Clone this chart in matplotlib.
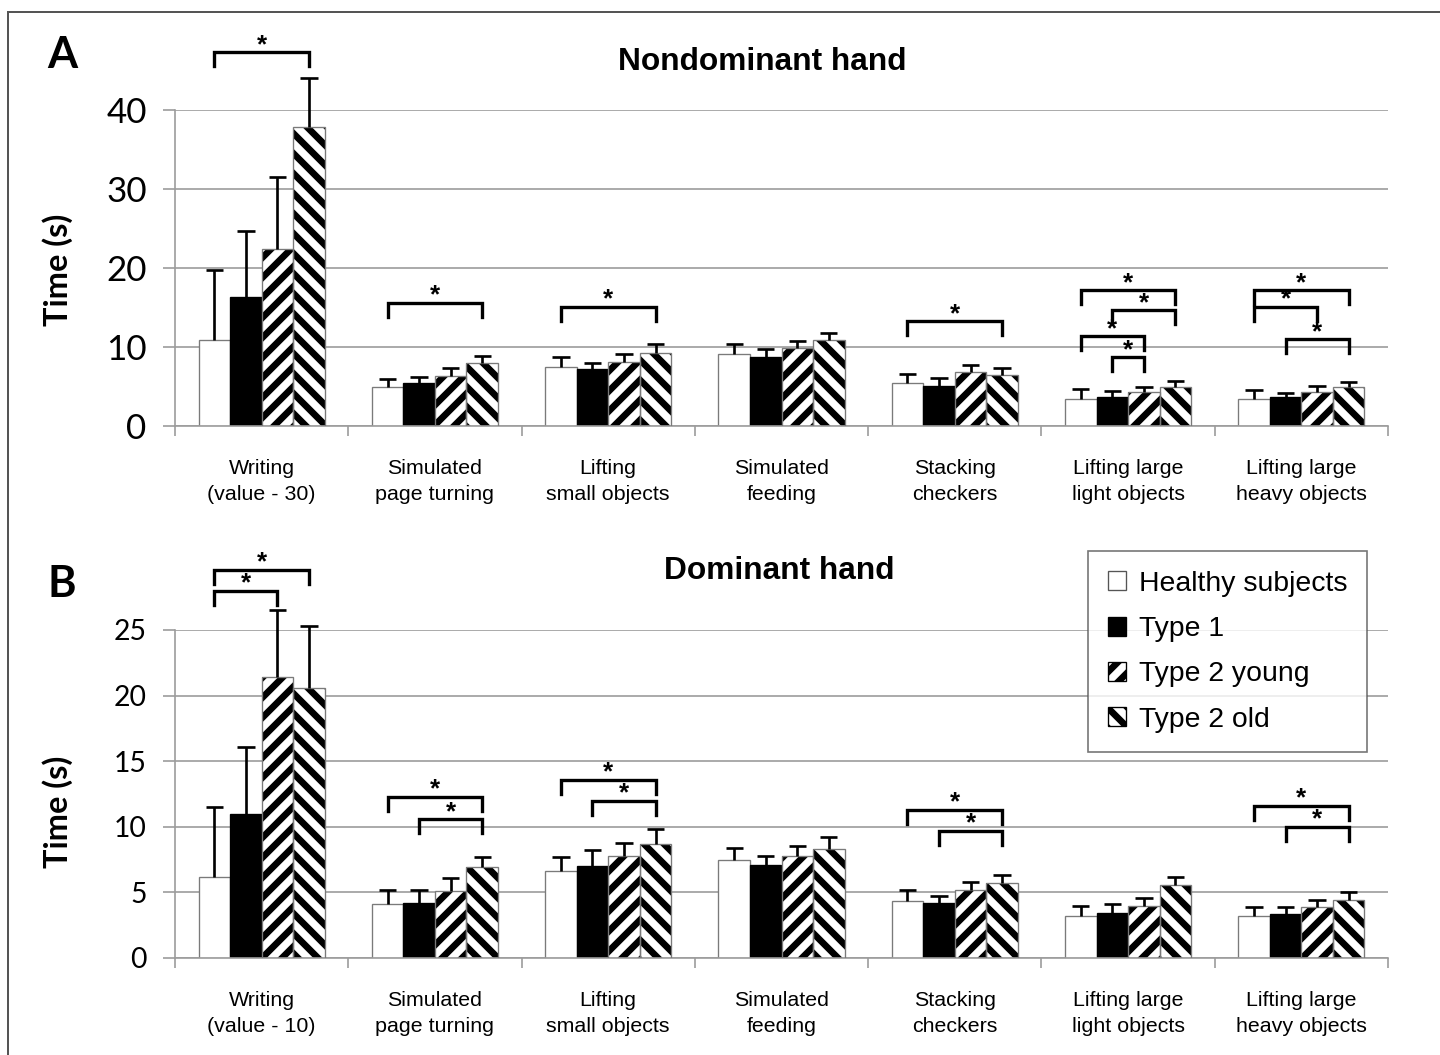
import numpy as np
import matplotlib
matplotlib.use('Agg')
from matplotlib import pyplot
from matplotlib.patches import Patch
from matplotlib.lines import Line2D
plt = pyplot

DPI = 120
W, H = 1440, 1055

plt.rcParams['hatch.linewidth'] = 4.0
plt.rcParams['font.family'] = ['Liberation Sans', 'DejaVu Sans']

# categories (two line labels)
tasks_a = ['Writing\n(value - 30)', 'Simulated\npage turning', 'Lifting\nsmall objects',
           'Simulated\nfeeding', 'Stacking\ncheckers', 'Lifting large\nlight objects',
           'Lifting large\nheavy objects']
tasks_b = ['Writing\n(value - 10)', 'Simulated\npage turning', 'Lifting\nsmall objects',
           'Simulated\nfeeding', 'Stacking\ncheckers', 'Lifting large\nlight objects',
           'Lifting large\nheavy objects']
groups = ['Healthy subjects', 'Type 1', 'Type 2 young', 'Type 2 old']

# Nondominant hand: mean per task, columns = groups
mean_a = [[10.9, 16.3, 22.4, 37.8],
          [4.9, 5.4, 6.3, 8.0],
          [7.5, 7.2, 8.1, 9.2],
          [9.1, 8.7, 9.9, 10.9],
          [5.4, 5.1, 6.8, 6.5],
          [3.4, 3.7, 4.3, 4.9],
          [3.4, 3.7, 4.3, 4.9]]
sd_a = [[8.8, 8.4, 9.1, 6.2],
        [1.1, 0.8, 1.0, 0.9],
        [1.2, 0.8, 1.0, 1.2],
        [1.3, 1.0, 0.9, 0.9],
        [1.2, 1.0, 0.9, 0.8],
        [1.3, 0.7, 0.6, 0.8],
        [1.1, 0.5, 0.8, 0.7]]

# Dominant hand
mean_b = [[6.2, 11.0, 21.4, 20.6],
          [4.1, 4.2, 5.1, 6.9],
          [6.6, 7.0, 7.8, 8.7],
          [7.5, 7.1, 7.8, 8.3],
          [4.35, 4.2, 5.2, 5.7],
          [3.2, 3.4, 3.95, 5.6],
          [3.2, 3.35, 3.9, 4.4]]
sd_b = [[5.3, 5.1, 5.1, 4.7],
        [1.1, 1.0, 1.0, 0.8],
        [1.1, 1.2, 1.0, 1.1],
        [0.9, 0.7, 0.7, 0.9],
        [0.85, 0.5, 0.6, 0.6],
        [0.8, 0.7, 0.65, 0.6],
        [0.7, 0.55, 0.5, 0.6]]

# significance brackets: (task, bar i, bar j, bracket level)
sig_a = [(0, 0, 3, 47.3),
         (1, 0, 3, 15.6),
         (2, 0, 3, 15.1),
         (4, 0, 3, 13.3),
         (5, 0, 3, 17.2), (5, 1, 3, 14.7), (5, 0, 2, 11.4), (5, 1, 2, 8.7),
         (6, 0, 3, 17.2), (6, 0, 2, 15.1), (6, 1, 3, 11.0)]
sig_b = [(0, 0, 3, 29.6), (0, 0, 2, 28.0),
         (1, 0, 3, 12.3), (1, 1, 3, 10.6),
         (2, 0, 3, 13.6), (2, 1, 3, 12.0),
         (4, 0, 3, 11.3), (4, 1, 3, 9.7),
         (6, 0, 3, 11.6), (6, 1, 3, 10.0)]

BAR_W = 0.182
OFFS = (np.arange(4) - 1.5) * BAR_W
GRID = '#9c9c9c'
styles = [dict(face='white', hatch=None, edge='#7a7a7a'),
          dict(face='black', hatch=None, edge='black'),
          dict(face='white', hatch='//', edge='#7a7a7a'),
          dict(face='white', hatch='\\\\', edge='#7a7a7a')]


def draw_panel(ax, means, sds, labels, sigs, ymax, step, tick_size):
    means = np.array(means)
    sds = np.array(sds)
    centers = np.arange(len(labels)) + 0.5

    for k, st in enumerate(styles):
        xs = centers + OFFS[k]
        if st['hatch']:
            # hatch in black, outline drawn separately in gray
            ax.bar(xs, means[:, k], BAR_W, color=st['face'], edgecolor='black',
                   linewidth=0, hatch=st['hatch'], zorder=2)
            ax.bar(xs, means[:, k], BAR_W, color='none', edgecolor=st['edge'],
                   linewidth=0.8, zorder=3)
        else:
            ax.bar(xs, means[:, k], BAR_W, color=st['face'], edgecolor=st['edge'],
                   linewidth=0.8, zorder=2)
        tops = means[:, k] + sds[:, k]
        ax.vlines(xs, means[:, k], tops, color='black', lw=1.6, zorder=4, clip_on=False)
        ax.hlines(tops, xs - 0.05, xs + 0.05, color='black', lw=1.6, zorder=4, clip_on=False)

    drop = 0.044 * ymax
    for t, i, j, lev in sigs:
        x1 = centers[t] + OFFS[i]
        x2 = centers[t] + OFFS[j]
        ax.plot([x1, x1, x2, x2], [lev - drop, lev, lev, lev - drop], color='black',
                lw=2.0, clip_on=False, zorder=5, solid_joinstyle='miter')
        ax.annotate('*', xy=((x1 + x2) / 2, lev), xytext=(0, -3), textcoords='offset points',
                    ha='center', va='bottom', fontsize=15.5, fontweight='bold',
                    annotation_clip=False)

    ax.set_xlim(0, len(labels))
    ax.set_ylim(0, ymax)
    ax.set_yticks(np.arange(0, ymax + 0.1, step))
    ax.set_yticklabels(['%d' % v for v in np.arange(0, ymax + 0.1, step)],
                       family='Lato', fontsize=tick_size)
    ax.set_xticks(centers)
    ax.set_xticklabels(labels, fontsize=12.8, linespacing=1.45)
    ax.set_xticks(np.arange(len(labels) + 1), minor=True)
    ax.tick_params(axis='x', which='major', length=0, pad=20)
    ax.tick_params(axis='x', which='minor', length=6, color=GRID, width=1, direction='out')
    ax.tick_params(axis='y', length=7, color=GRID, width=1, direction='out', pad=10)
    ax.yaxis.grid(True, color=GRID, lw=1)
    ax.set_axisbelow(True)
    for s in ['top', 'right']:
        ax.spines[s].set_visible(False)
    for s in ['left', 'bottom']:
        ax.spines[s].set_color(GRID)
        ax.spines[s].set_linewidth(1)


fig = plt.figure(figsize=(W / DPI, H / DPI), dpi=DPI)

left = 175 / W
width = 1388 / W - left
ax_a = fig.add_axes([left, 1 - 426 / H, width, (426 - 110) / H])
ax_b = fig.add_axes([left, 1 - 958 / H, width, (958 - 630) / H])

draw_panel(ax_a, mean_a, sd_a, tasks_a, sig_a, 40, 10, 21)
draw_panel(ax_b, mean_b, sd_b, tasks_b, sig_b, 25, 5, 17)

# titles, panel letters, y labels
fig.text(762 / W, 1 - 62 / H, 'Nondominant hand', ha='center', va='center',
         fontsize=19, fontweight='bold')
fig.text(779 / W, 1 - 571 / H, 'Dominant hand', ha='center', va='center',
         fontsize=19, fontweight='bold')
fig.text(62 / W, 1 - 55 / H, 'A', ha='center', va='center', family='Lato',
         fontsize=26, fontweight='bold')
fig.text(62 / W, 1 - 584 / H, 'B', ha='center', va='center', family='Lato',
         fontsize=26, fontweight='bold')
fig.text(58 / W, 1 - 270 / H, 'Time (s)', rotation=90, ha='center', va='center',
         family='Lato', fontsize=19.5, fontweight='bold')
fig.text(58 / W, 1 - 812 / H, 'Time (s)', rotation=90, ha='center', va='center',
         family='Lato', fontsize=19.5, fontweight='bold')

# legend
handles = [Patch(facecolor='white', edgecolor='#555555', lw=0.8),
           Patch(facecolor='black', edgecolor='black', lw=0.8),
           Patch(facecolor='white', edgecolor='black', hatch='//', lw=0.8),
           Patch(facecolor='white', edgecolor='black', hatch='\\\\', lw=0.8)]
leg = fig.legend(handles, groups, loc='upper left', bbox_to_anchor=(1088 / W, 1 - 551 / H),
                 bbox_transform=fig.transFigure, frameon=True, fancybox=False,
                 edgecolor='#555555', fontsize=17, handlelength=0.65, handleheight=0.65,
                 handletextpad=0.45, labelspacing=0.68, borderpad=0.7, borderaxespad=0)
leg.get_frame().set_linewidth(1)

# outer frame
fig.add_artist(Line2D([8 / W, 8 / W], [0, 1 - 12 / H], transform=fig.transFigure,
                      color='#555555', lw=1.2))
fig.add_artist(Line2D([8 / W, 1], [1 - 12 / H, 1 - 12 / H], transform=fig.transFigure,
                      color='#555555', lw=1.2))

fig.savefig('out.png', dpi=DPI)
